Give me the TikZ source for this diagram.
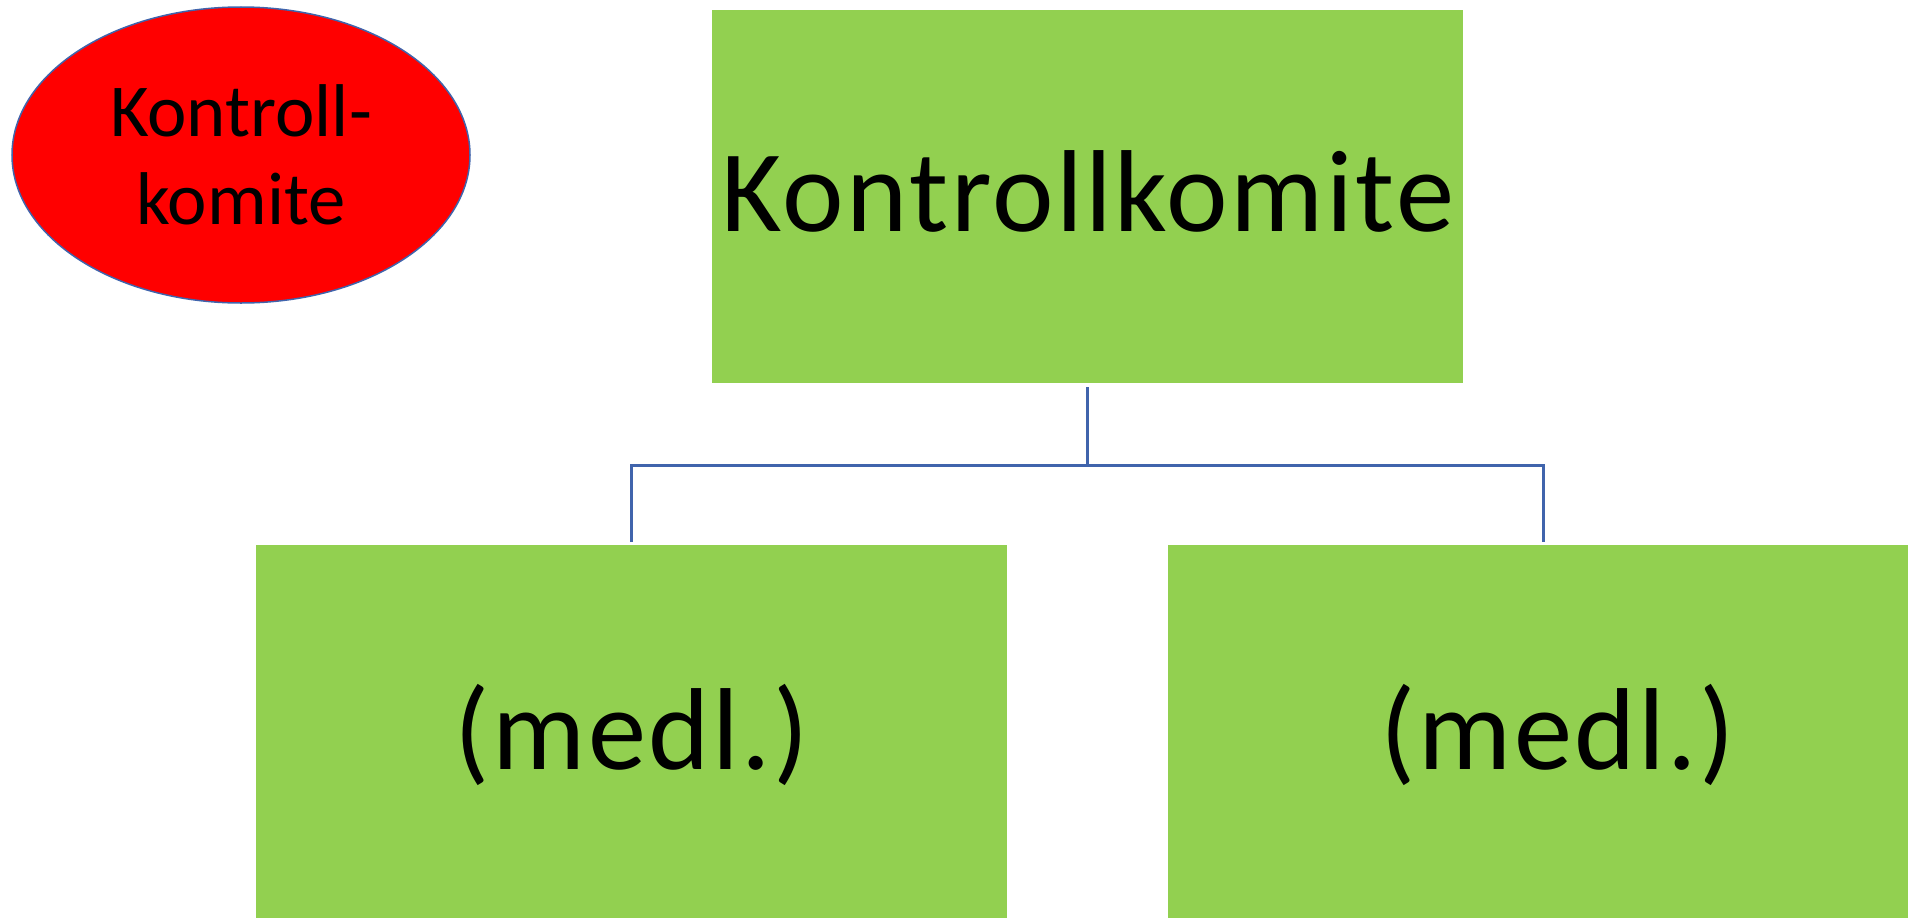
\documentclass[tikz,border=0pt]{standalone}
\usepackage{fontspec}
\setmainfont{Carlito}
\usetikzlibrary{shapes.geometric}
\definecolor{boxgreen}{HTML}{92D050}
\definecolor{lineblue}{HTML}{4064AC}
\definecolor{ovalred}{HTML}{FF0000}
\tikzset{
  greenbox/.style={rectangle, fill=boxgreen, draw=none, minimum width=751bp, minimum height=373bp, inner sep=0pt},
  bigtext/.style={font=\fontsize{117}{140}\selectfont\addfontfeatures{LetterSpace=2.2}, text=black},
  oval/.style={ellipse, fill=ovalred, draw=lineblue, line width=1.5bp, minimum width=458bp, minimum height=296bp, inner sep=0pt, align=center, font=\fontsize{75}{88}\selectfont},
  conn/.style={draw=lineblue, line width=3bp}
}
\begin{document}
\begin{tikzpicture}[x=1bp, y=-1bp]
\clip (0,0) rectangle (1908,918);
\fill[white] (0,0) rectangle (1908,918);
\node[oval] (kk) at (241,155) {Kontroll-\\komite};
\node[greenbox] (top) at (1087.5,196.5) {};
\node[bigtext] (toptext) at (1088,191) {Kontrollkomite};
\node[greenbox] (left) at (631.5,731.5) {};
\node[greenbox] (right) at (1543.5,731.5) {};
\node[bigtext] (lefttext) at (632,735) {(medl.)};
\node[bigtext] (righttext) at (1558,735) {(medl.)};
\draw[conn] ([yshift=-4bp]top.south) -- ([yshift=-82bp]top.south);
\draw[conn] ([yshift=3bp]left.north) |- ([yshift=-82bp]top.south) -| ([yshift=3bp]right.north);
\end{tikzpicture}
\end{document}
